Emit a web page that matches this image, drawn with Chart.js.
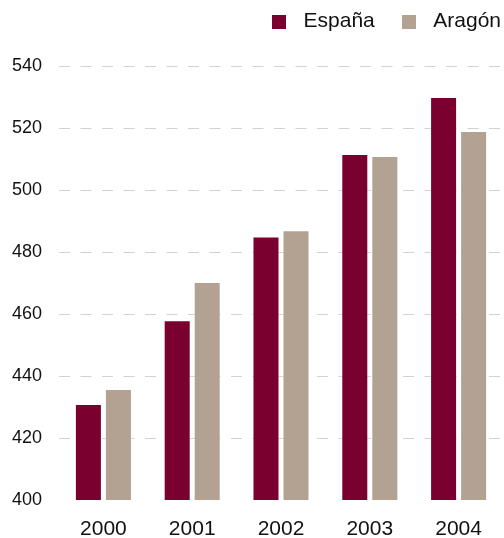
<!DOCTYPE html>
<html>
<head>
<meta charset="utf-8">
<script src="https://cdn.jsdelivr.net/npm/chart.js@4"></script>
<style>
  html, body { margin: 0; padding: 0; background: #fff; }
  #wrap { width: 504px; height: 538px; position: relative; }
</style>
</head>
<body>
<div id="wrap"><canvas id="chart"></canvas></div>
<script>
// values
const years = ['2000', '2001', '2002', '2003', '2004'];
const espana = [431, 458, 485, 511.6, 530];
const aragon = [435.8, 470.3, 487, 511, 519];
const yTicks = [400, 420, 440, 460, 480, 500, 520, 540];

const colEspana = '#7a002f';
const colAragon = '#b3a192';

// small square swatch used as the legend marker
function swatch(color) {
  const c = document.createElement('canvas');
  c.width = 14;
  c.height = 14;
  const g = c.getContext('2d');
  g.fillStyle = color;
  g.fillRect(0, 0, 14, 14);
  return c;
}

// legend: fixed height, then nudged up and to the right edge
const legendTweak = {
  id: 'legendTweak',
  beforeInit(chart) {
    const fit = chart.legend.fit;
    chart.legend.fit = function() {
      fit.bind(chart.legend)();
      this.height = 66;
    };
  },
  afterLayout(chart) {
    chart.legend.top -= 9;
    chart.legend.right += 18;
  }
};

const ctx = document.getElementById('chart').getContext('2d');

new Chart(ctx, {
  type: 'bar',
  data: {
    labels: years,
    datasets: [{
      label: 'España',
      data: espana,
      backgroundColor: colEspana,
      borderColor: 'rgba(255,255,255,0.45)',
      borderWidth: 1
    }, {
      label: 'Aragón',
      data: aragon,
      backgroundColor: colAragon,
      borderColor: 'rgba(255,255,255,0.45)',
      borderWidth: 1
    }]
  },
  options: {
    responsive: true,
    maintainAspectRatio: false,
    animation: false,
    categoryPercentage: 0.676,
    barPercentage: 0.9,
    layout: { padding: { left: 12, right: 1, top: 0, bottom: 0 } },
    scales: {
      x: {
        afterFit: function(axis) { axis.height = 38; },
        grid: { display: false, drawTicks: false },
        border: { display: false },
        ticks: {
          color: '#111',
          font: { family: 'Liberation Sans', size: 21 },
          padding: 17
        }
      },
      y: {
        min: 400,
        max: 540,
        afterFit: function(axis) { axis.width = 47; },
        afterBuildTicks: function(axis) {
          axis.ticks = yTicks.map(v => ({ value: v }));
        },
        grid: {
          color: function(c) { return c.tick.value === 400 ? 'rgba(0,0,0,0)' : '#d2d2d2'; },
          lineWidth: 1,
          drawTicks: false
        },
        border: { display: false, dash: [11, 10.5] },
        ticks: {
          color: '#111',
          crossAlign: 'far',
          font: { family: 'Liberation Sans', size: 18 },
          padding: 10
        }
      }
    },
    plugins: {
      legend: {
        position: 'top',
        align: 'end',
        labels: {
          usePointStyle: true,
          pointStyleWidth: 28,
          boxHeight: 14,
          color: '#111',
          padding: 20,
          font: { family: 'Liberation Sans', size: 21 },
          generateLabels: function(chart) {
            const items = Chart.defaults.plugins.legend.labels.generateLabels(chart);
            items.forEach(function(item, i) {
              item.pointStyle = swatch(i === 0 ? colEspana : colAragon);
            });
            return items;
          }
        }
      },
      tooltip: { enabled: false }
    }
  },
  plugins: [legendTweak]
});
</script>
</body>
</html>
